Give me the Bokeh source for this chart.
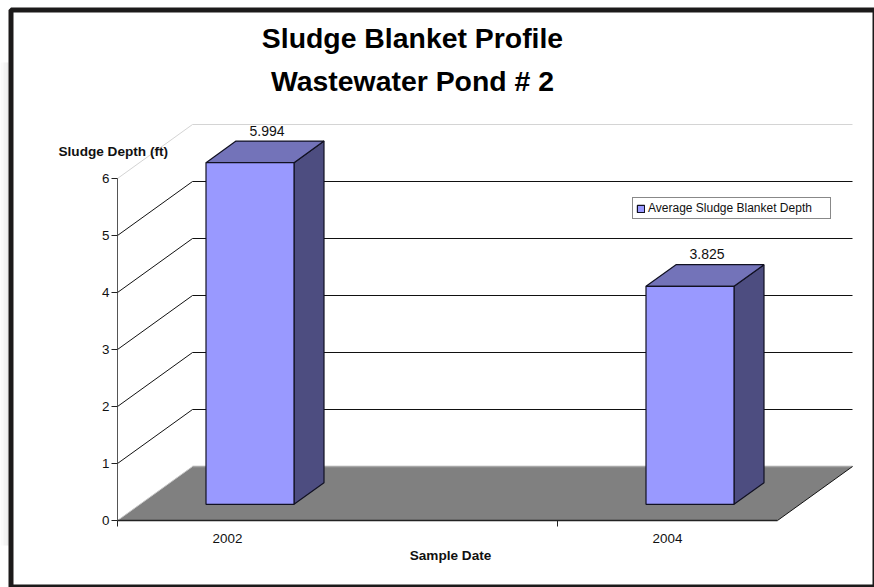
from bokeh.plotting import figure
from bokeh.embed import file_html
from bokeh.resources import INLINE
from bokeh.models import Label, Legend, LegendItem, FixedTicker, BoxAnnotation, Range1d

years = [2002, 2004]
depths = [5.994, 3.825]
depth_labels = ["5.994", "3.825"]
y_ticks = [0, 1, 2, 3, 4, 5, 6]
x_label_ticks = [2002, 2004]
x_mark_ticks = [2001.5, 2003.5]
title_lines = ["Sludge Blanket Profile", "Wastewater Pond # 2"]
series_name = "Average Sludge Blanket Depth"

FONT = "Liberation Sans"
W, H = 874, 587
PX_X = 220.0   # px per year
PX_Y = 57.0    # px per unit of depth
L, B = 117, 67
x0, x1 = 2001.5, 2004.5
DX, DY = 75 / PX_X, 54 / PX_Y   # oblique projection of the depth axis
BAR_W = 0.4
D_FRONT, D_BACK = 0.3, 0.7


def px(x, v, d=0.0):
    return x + d * DX, v + d * DY


def sy(y):
    return H - y


p = figure(width=W, height=H, output_backend="svg", toolbar_location=None,
           x_range=Range1d(x0 - L / PX_X, x0 + (W - L) / PX_X),
           y_range=Range1d(-B / PX_Y, (H - B) / PX_Y),
           min_border_left=0, min_border_bottom=0, min_border_top=0, min_border_right=0,
           background_fill_color="white", border_fill_color="white")
p.outline_line_color = None
p.grid.visible = False

# axes
xa, ya = p.xaxis[0], p.yaxis[0]
xa.fixed_location = 0
ya.fixed_location = x0
xa.ticker = FixedTicker(ticks=x_label_ticks, minor_ticks=x_mark_ticks)
xa.bounds = (x0, x1)
xa.major_tick_line_color = None
xa.minor_tick_in, xa.minor_tick_out = 0, 6
xa.minor_tick_line_color = "#222222"
xa.axis_line_color = "#222222"
xa.axis_line_width = 1.5
xa.major_label_standoff = 7
xa.major_label_text_font = FONT
xa.major_label_text_font_size = "13.4px"
xa.major_label_text_color = "#111111"
ya.ticker = FixedTicker(ticks=y_ticks, minor_ticks=[])
ya.bounds = (0, 6)
ya.major_tick_in, ya.major_tick_out = 0, 6
ya.major_tick_line_color = "#222222"
ya.axis_line_color = "#555555"
ya.major_label_standoff = 2
ya.major_label_text_font = FONT
ya.major_label_text_font_size = "13.4px"
ya.major_label_text_color = "#111111"

# walls
for v in y_ticks[1:]:
    col = "#d4d4d4" if v == 6 else "#111111"
    bx, by = px(x0, v, 1)
    ex, ey = px(x1, v, 1)
    p.line([x0, bx], [v, by], line_color=col, line_width=1)
    p.line([bx, ex], [by, ey], line_color=col, line_width=1)

# floor
c = [px(x0, 0), px(x1, 0), px(x1, 0, 1), px(x0, 0, 1)]
p.patch([q[0] for q in c], [q[1] for q in c], fill_color="#808080", line_color=None)
p.line([c[3][0], c[2][0]], [c[3][1], c[2][1]], line_color="#a8a8a8", line_width=1.5)
p.line([c[1][0], c[2][0]], [c[1][1], c[2][1]], line_color="#111111", line_width=1)
p.line([c[0][0], c[3][0]], [c[0][1], c[3][1]], line_color="#c8c8c8", line_width=1)

# bars
front = None
for yr, dep, lab in zip(years, depths, depth_labels):
    l, r = yr - BAR_W / 2, yr + BAR_W / 2
    f = [px(l, 0, D_FRONT), px(r, 0, D_FRONT), px(r, dep, D_FRONT), px(l, dep, D_FRONT)]
    s = [px(r, 0, D_FRONT), px(r, 0, D_BACK), px(r, dep, D_BACK), px(r, dep, D_FRONT)]
    t = [px(l, dep, D_FRONT), px(r, dep, D_FRONT), px(r, dep, D_BACK), px(l, dep, D_BACK)]
    for pts, col in ((s, "#4d4d80"), (t, "#7373b9")):
        p.patch([q[0] for q in pts], [q[1] for q in pts], fill_color=col,
                line_color="#111122", line_width=1.2)
    rend = p.patch([q[0] for q in f], [q[1] for q in f], fill_color="#9999ff",
                   line_color="#111122", line_width=1.2)
    front = front or rend
    mx = (f[0][0] + s[1][0]) / 2
    p.add_layout(Label(x=mx, y=t[2][1], text=lab, text_align="center", text_baseline="bottom",
                       x_offset=2, y_offset=5.5, text_font=FONT, text_font_size="14px",
                       text_color="#111111"))

# legend
leg = Legend(items=[LegendItem(label=series_name, renderers=[front])],
             location=(632, 368), orientation="vertical", margin=0, padding=3,
             spacing=0, glyph_width=9, glyph_height=9, label_standoff=3, label_width=179,
             label_text_font=FONT, label_text_font_size="12px", label_text_color="#111111",
             label_height=13, border_line_color="#111111", border_line_width=1,
             background_fill_color="white", background_fill_alpha=1)
p.add_layout(leg, "center")

# texts
for line, y in zip(title_lines, (37, 80.5)):
    p.add_layout(Label(x=412, y=sy(y), x_units="screen", y_units="screen", text=line,
                       text_align="center", text_baseline="middle", text_font=FONT,
                       text_font_style="bold", text_font_size="28.4px", text_color="black"))
p.add_layout(Label(x=58, y=sy(151), x_units="screen", y_units="screen", text="Sludge Depth (ft)",
                   text_align="left", text_baseline="middle", text_font=FONT,
                   text_font_style="bold", text_font_size="13.6px", text_color="#111111"))
p.add_layout(Label(x=450, y=sy(555), x_units="screen", y_units="screen", text="Sample Date",
                   text_align="center", text_baseline="middle", text_font=FONT,
                   text_font_style="bold", text_font_size="13.6px", text_color="#111111"))

# page shadow left of the frame
for a, b, col in ((0, 3, "#fbfbfb"), (3, 6, "#f4f4f4"), (6, 8, "#ececec")):
    p.add_layout(BoxAnnotation(left=a, right=b, top=sy(62), bottom=sy(545),
                               left_units="screen", right_units="screen",
                               top_units="screen", bottom_units="screen",
                               fill_color=col, fill_alpha=1, line_alpha=0, level="overlay"))

# outer frame
p.add_layout(BoxAnnotation(left=10.5, right=874.5, top=sy(9.5), bottom=sy(586.5),
                           left_units="screen", right_units="screen",
                           top_units="screen", bottom_units="screen",
                           fill_alpha=0, line_color="#1c1a1a", line_alpha=1, line_width=5,
                           level="overlay"))

open("out.html", "w").write(file_html(p, INLINE))
